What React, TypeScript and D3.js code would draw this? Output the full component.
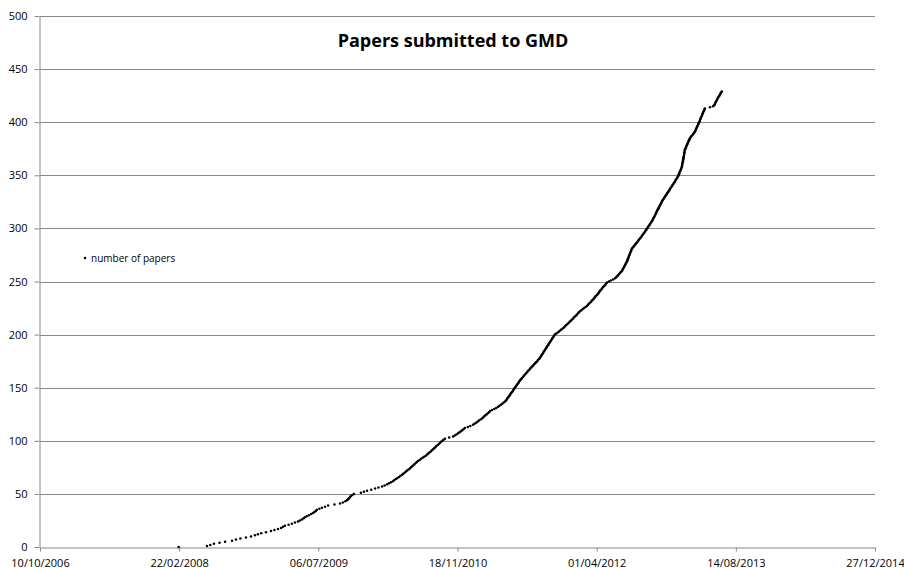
import React, { useEffect, useRef } from 'react';
import * as d3 from 'd3';

// days after 10/10/2006 on which each paper was submitted
const paperDays: number[] = [
  498, 600, 612, 625, 645, 665, 690, 704, 720, 740,
  758, 772, 783, 795, 812, 830, 842, 855, 866, 873,
  880, 893, 905, 916, 927, 934, 941, 947, 952, 958,
  966, 974, 981, 986, 991, 995, 1004, 1013, 1024, 1035,
  1058, 1078, 1088, 1097, 1103, 1107, 1110, 1114, 1117, 1122,
  1128, 1153, 1164, 1175, 1190, 1204, 1216, 1229, 1238, 1247,
  1254, 1261, 1268, 1273, 1279, 1284, 1290, 1295, 1301, 1305,
  1310, 1315, 1319, 1324, 1329, 1333, 1337, 1341, 1345, 1350,
  1354, 1358, 1364, 1369, 1375, 1380, 1386, 1391, 1395, 1399,
  1404, 1408, 1412, 1416, 1420, 1424, 1429, 1433, 1437, 1441,
  1446, 1450, 1455, 1470, 1484, 1490, 1496, 1502, 1507, 1512,
  1517, 1522, 1527, 1537, 1546, 1556, 1561, 1567, 1572, 1577,
  1583, 1588, 1592, 1596, 1600, 1605, 1609, 1613, 1617, 1624,
  1632, 1639, 1646, 1651, 1656, 1661, 1666, 1671, 1674, 1677,
  1679, 1682, 1685, 1688, 1690, 1693, 1696, 1699, 1701, 1704,
  1706, 1709, 1712, 1714, 1717, 1720, 1722, 1725, 1728, 1731,
  1735, 1738, 1741, 1744, 1748, 1751, 1754, 1758, 1761, 1765,
  1768, 1772, 1775, 1779, 1782, 1786, 1789, 1793, 1796, 1798,
  1801, 1803, 1806, 1808, 1810, 1813, 1815, 1818, 1820, 1822,
  1825, 1827, 1830, 1832, 1835, 1837, 1840, 1842, 1845, 1847,
  1850, 1855, 1860, 1865, 1870, 1874, 1879, 1883, 1887, 1891,
  1895, 1899, 1903, 1907, 1911, 1915, 1918, 1922, 1926, 1929,
  1933, 1936, 1940, 1945, 1950, 1955, 1960, 1965, 1969, 1972,
  1976, 1980, 1983, 1987, 1990, 1993, 1996, 2000, 2003, 2006,
  2009, 2012, 2015, 2018, 2021, 2024, 2028, 2031, 2034, 2037,
  2044, 2051, 2059, 2066, 2070, 2073, 2077, 2080, 2084, 2087,
  2091, 2093, 2095, 2097, 2099, 2101, 2103, 2105, 2107, 2109,
  2110, 2112, 2113, 2115, 2116, 2118, 2119, 2121, 2122, 2124,
  2125, 2127, 2130, 2133, 2136, 2139, 2142, 2145, 2148, 2151,
  2154, 2157, 2160, 2163, 2165, 2168, 2171, 2174, 2176, 2179,
  2181, 2184, 2186, 2189, 2191, 2194, 2196, 2199, 2201, 2203,
  2205, 2207, 2209, 2211, 2213, 2214, 2216, 2218, 2220, 2222,
  2224, 2226, 2228, 2230, 2232, 2234, 2236, 2238, 2241, 2243,
  2246, 2248, 2251, 2253, 2256, 2258, 2261, 2263, 2266, 2268,
  2271, 2273, 2276, 2278, 2281, 2283, 2285, 2288, 2290, 2292,
  2294, 2295, 2297, 2298, 2300, 2302, 2303, 2305, 2306, 2307,
  2307, 2308, 2309, 2310, 2310, 2311, 2312, 2312, 2313, 2314,
  2314, 2315, 2316, 2316, 2317, 2319, 2320, 2322, 2323, 2325,
  2327, 2328, 2330, 2332, 2333, 2335, 2338, 2341, 2344, 2347,
  2350, 2353, 2355, 2356, 2358, 2360, 2361, 2363, 2365, 2366,
  2368, 2370, 2371, 2373, 2374, 2376, 2378, 2379, 2381, 2382,
  2384, 2386, 2387, 2389, 2407, 2418, 2422, 2424, 2426, 2428,
  2430, 2432, 2434, 2436, 2438, 2441, 2443, 2445, 2447, 2450,
];

const xTickLabels = ['10/10/2006', '22/02/2008', '06/07/2009', '18/11/2010', '01/04/2012', '14/08/2013', '27/12/2014'];
const yTicks = [0, 50, 100, 150, 200, 250, 300, 350, 400, 450, 500];

const title = 'Papers submitted to GMD';
const seriesName = 'number of papers';

const App: React.FC = () => {
  const svgRef = useRef<SVGSVGElement>(null);

  useEffect(() => {
    const svg = d3.select(svgRef.current);
    svg.selectAll('*').remove();

    const width = 904;
    const height = 568;
    const margin = { top: 16, right: 29, bottom: 21, left: 40 };
    const font = "'Open Sans', sans-serif";
    const grey = '#888888';

    const parse = d3.utcParse('%d/%m/%Y');
    const fmt = d3.utcFormat('%d/%m/%Y');
    const tickDates = xTickLabels.map(s => parse(s) as Date);
    const start = tickDates[0];
    const points = paperDays.map((d, i) => ({ date: d3.utcDay.offset(start, d), n: i }));

    const x = d3.scaleUtc()
      .domain([tickDates[0], tickDates[tickDates.length - 1]])
      .range([margin.left, width - margin.right]);

    const y = d3.scaleLinear()
      .domain([0, 500])
      .range([height - margin.bottom, margin.top]);

    // horizontal gridlines
    svg.append('g')
      .selectAll('line')
      .data(yTicks.filter(t => t > 0))
      .join('line')
      .attr('x1', margin.left)
      .attr('x2', width - margin.right)
      .attr('y1', d => Math.round(y(d)) + 0.5)
      .attr('y2', d => Math.round(y(d)) + 0.5)
      .attr('stroke', grey)
      .attr('stroke-width', 1);

    // X-axis
    const xAxis = svg.append('g')
      .attr('transform', `translate(0,${Math.round(y(0)) + 0.5})`)
      .call(d3.axisBottom(x).tickValues(tickDates).tickFormat(d => fmt(d as Date)).tickSize(4).tickSizeOuter(0));
    xAxis.select('.domain').attr('stroke', grey);
    xAxis.selectAll('.tick line').attr('stroke', grey);
    xAxis.selectAll('.tick text')
      .attr('y', 19)
      .attr('dy', null)
      .attr('fill', '#000')
      .style('font-family', font)
      .style('font-size', '11px');

    // Y-axis
    const yAxis = svg.append('g')
      .attr('transform', `translate(${margin.left - 0.5},0)`)
      .call(d3.axisLeft(y).tickValues(yTicks).tickSize(5).tickSizeOuter(0));
    yAxis.select('.domain').attr('stroke', grey);
    yAxis.selectAll('.tick line').attr('stroke', grey);
    yAxis.selectAll('.tick text')
      .attr('x', -12)
      .attr('fill', '#000')
      .style('font-family', font)
      .style('font-size', '11px');

    // Points
    svg.append('g')
      .selectAll('circle')
      .data(points)
      .join('circle')
      .attr('cx', d => x(d.date))
      .attr('cy', d => y(d.n))
      .attr('r', 1.25)
      .attr('fill', '#000');

    // Title
    svg.append('text')
      .attr('x', 453)
      .attr('y', 47)
      .attr('text-anchor', 'middle')
      .attr('fill', '#000')
      .style('font-family', font)
      .style('font-weight', 'bold')
      .style('font-size', '18px')
      .text(title);

    // Legend
    const legend = svg.append('g').attr('transform', 'translate(85,258)');
    legend.append('circle').attr('r', 1.3).attr('fill', '#000');
    legend.append('text')
      .attr('x', 6)
      .attr('y', 3.5)
      .attr('fill', '#000')
      .style('font-family', font)
      .style('font-size', '10px')
      .text(seriesName);
  }, []);

  return (
    <svg
      ref={svgRef}
      width={904}
      height={568}
      style={{ position: 'absolute', left: 0, top: 0, background: '#fff' }}
    />
  );
};

export default App;
